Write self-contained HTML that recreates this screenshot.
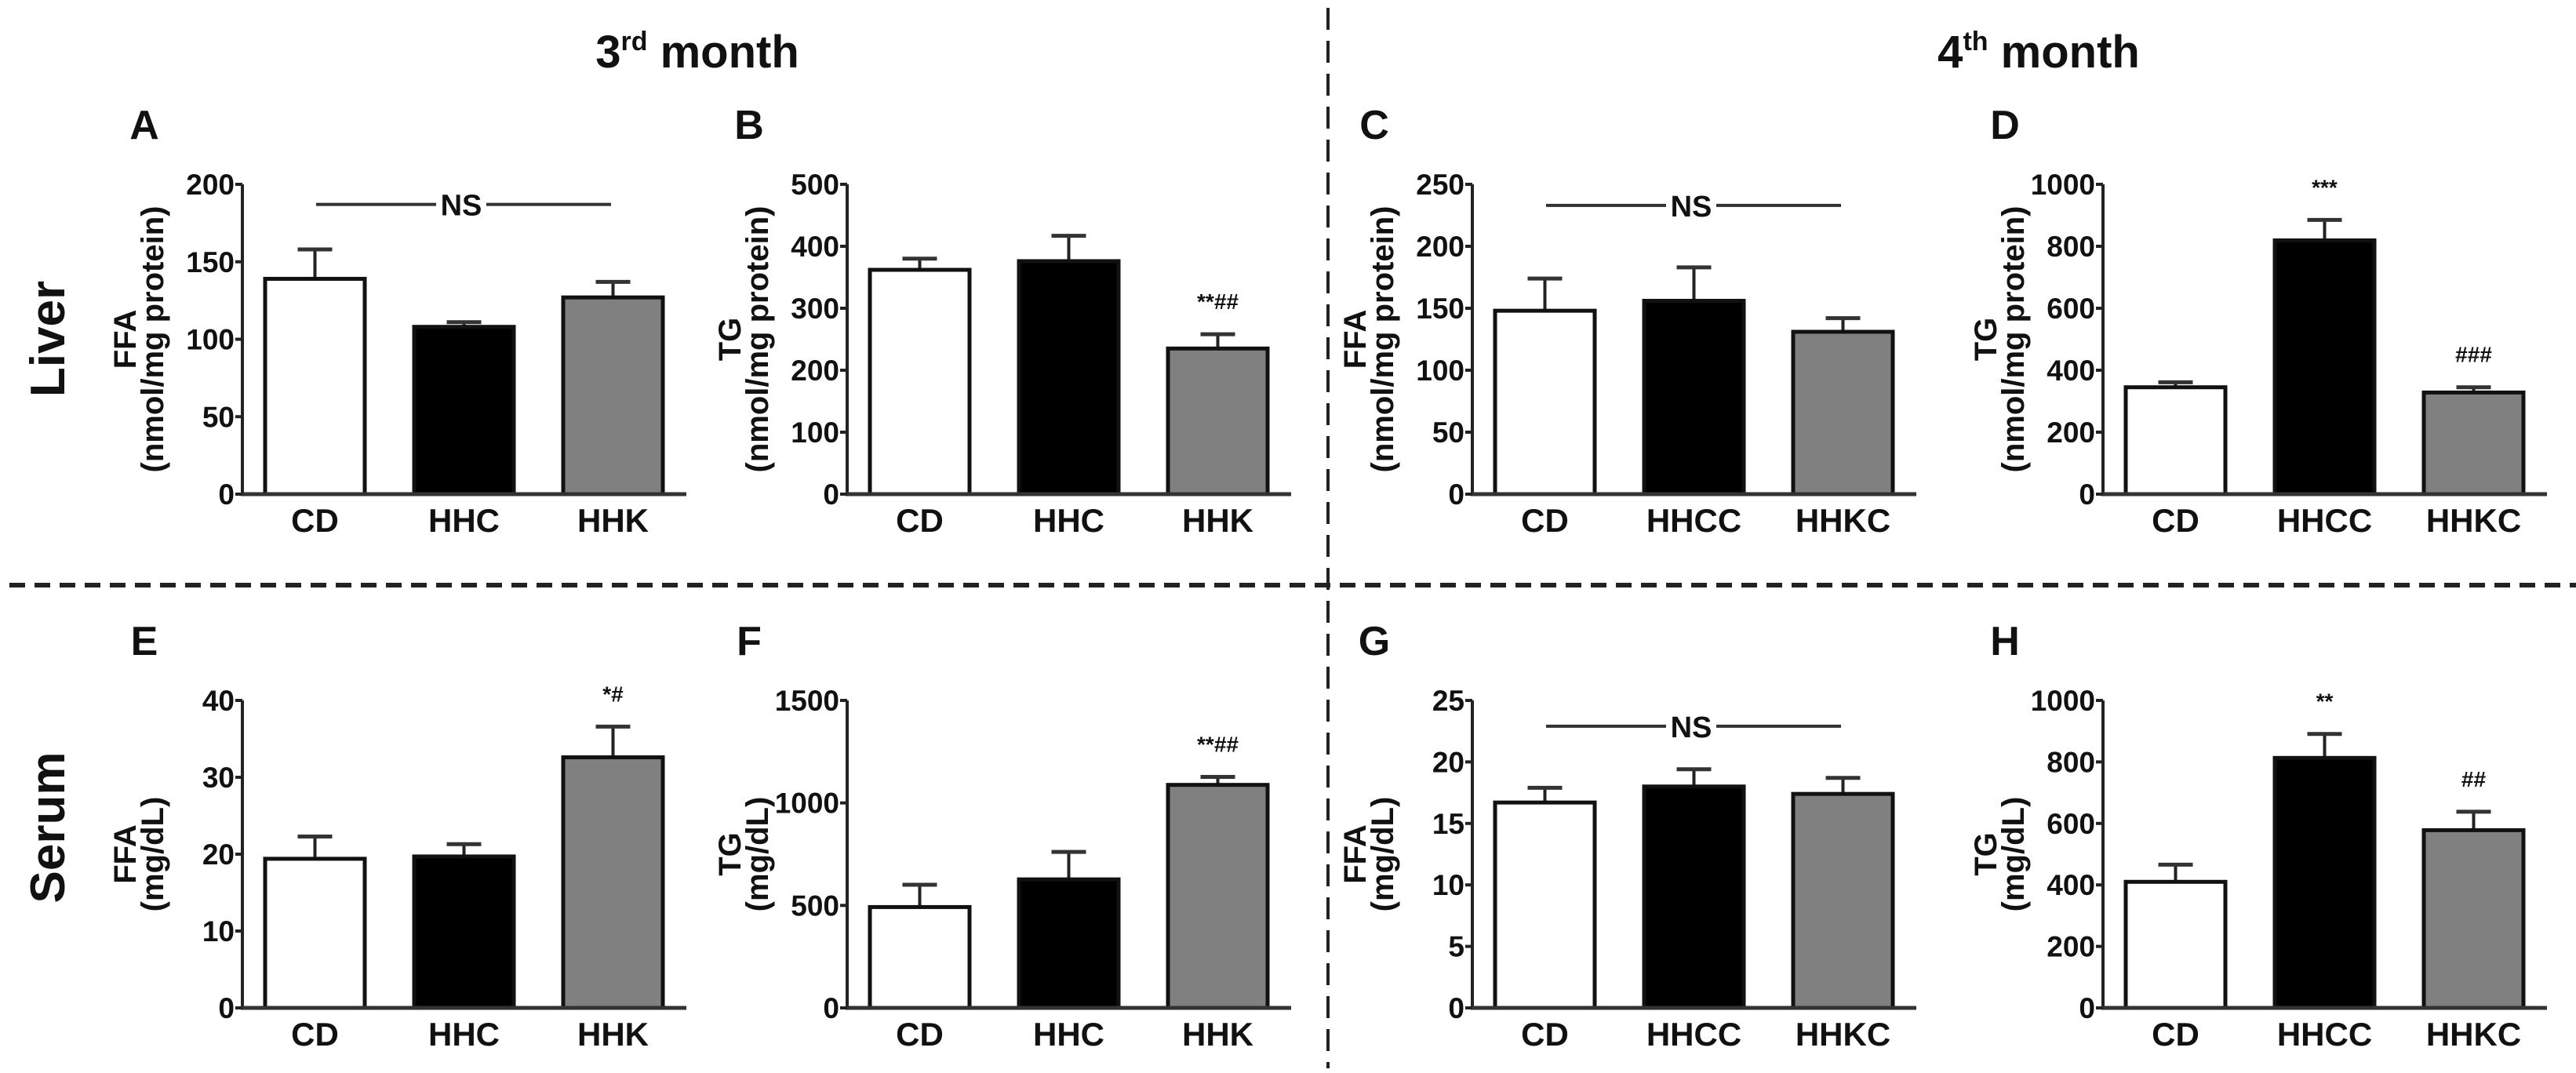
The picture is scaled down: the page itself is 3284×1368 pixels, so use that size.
<!DOCTYPE html>
<html><head><meta charset="utf-8">
<style>
html,body{margin:0;padding:0;background:#fff;}
svg{display:block;}
text{font-family:"Liberation Sans Narrow","Liberation Sans",sans-serif;font-weight:bold;fill:#111;}
.wide{font-family:"Liberation Sans",sans-serif;}
</style></head>
<body>
<svg id="fig" width="3284" height="1368" viewBox="0 0 3284 1368" xmlns="http://www.w3.org/2000/svg"></svg>
<script>
// ---- data ----
const catsA = ["CD","HHC","HHK"];
const catsC = ["CD","HHCC","HHKC"];
const valsA = [139, 108, 127];   const errA = [158, 111, 137];
const valsB = [362, 376, 235];   const errB = [380, 417, 258];
const valsC = [148, 156, 131];   const errC = [174, 183, 142];
const valsD = [345, 819, 328];   const errD = [361, 885, 345];
const valsE = [19.4, 19.7, 32.6]; const errE = [22.3, 21.3, 36.6];
const valsF = [492, 627, 1088];  const errF = [601, 761, 1127];
const valsG = [16.7, 18.0, 17.4]; const errG = [17.9, 19.4, 18.7];
const valsH = [410, 813, 578];   const errH = [466, 891, 638];
const ticksA = [0,50,100,150,200];
const ticksB = [0,100,200,300,400,500];
const ticksC = [0,50,100,150,200,250];
const ticksD = [0,200,400,600,800,1000];
const ticksE = [0,10,20,30,40];
const ticksF = [0,500,1000,1500];
const ticksG = [0,5,10,15,20,25];
const ticksH = [0,200,400,600,800,1000];
const annB = ["", "", "**##"]; const annD = ["", "***", "###"];
const annE = ["", "", "*#"];   const annF = ["", "", "**##"];
const annH = ["", "**", "##"];
const annEmpty = ["", "", ""];

const NS = "http://www.w3.org/2000/svg";
const svg = document.getElementById('fig');
function mk(tag, attrs, parent){
  const e = document.createElementNS(NS, tag);
  for (const k in attrs) e.setAttribute(k, attrs[k]);
  (parent||svg).appendChild(e); return e;
}
function txt(s, attrs, parent){ const t = mk('text', attrs, parent); t.textContent = s; return t; }

const fills = ["#ffffff","#000000","#808080"];

function panel(id, letter, ax, top, base, cats, vals, errs, ticks, ann, ytitle1, ytitle2, ns, nsVal){
  const g = mk('g', {});
  
  
  const ymax = ticks[ticks.length-1];
  const y = v => base - (v / ymax) * (base - top);
  const barX = i => ax + 29 + i * 190;
  const bw = 127;
  const L = txt(letter, {x: ax-125, y: top-58, 'font-size': 52, 'text-anchor':'middle'}, g);
  
  
  vals.forEach((v, i) => {
    const bx = barX(i), by = y(v);
    const eb = mk('g', {}, g);
    
    
    mk('line', {x1: bx+bw/2, x2: bx+bw/2, y1: by, y2: y(errs[i]), stroke:'#222', 'stroke-width':4}, eb);
    mk('line', {x1: bx+bw/2-22, x2: bx+bw/2+22, y1: y(errs[i]), y2: y(errs[i]), stroke:'#333', 'stroke-width':5}, eb);
    const r = mk('rect', {x: bx, y: by, width: bw, height: base - by, fill: fills[i], stroke:'#111', 'stroke-width':5}, g);
    
    
    if (ann[i]) {
      const a = txt(ann[i], {x: bx+bw/2, y: y(errs[i]) - 32, 'font-size': 28, 'text-anchor':'middle'}, g);
      
      
    }
    const xl = txt(cats[i], {x: bx+bw/2, y: base+48, 'font-size': 42, 'text-anchor':'middle'}, g);
    
    
  });
  const ya = mk('line', {x1: ax, x2: ax, y1: top, y2: base+2, stroke:'#222', 'stroke-width':4}, g);
  
  
  const xa = mk('line', {x1: ax-2, x2: ax+566, y1: base, y2: base, stroke:'#333', 'stroke-width':5}, g);
  
  
  ticks.forEach(t => {
    mk('line', {x1: ax-9, x2: ax, y1: y(t), y2: y(t), stroke:'#222', 'stroke-width':4}, g);
    const tl = txt(String(t), {x: ax-10, y: y(t)+13, 'font-size': 37, 'text-anchor':'end'}, g);
    
    
  });
  const mid = (top + base) / 2;
  const yt = mk('g', {transform: `translate(${ax-134},${mid}) rotate(-90)`}, g);
  
  
  txt(ytitle1, {x: 0, y: -2, 'font-size': 40, 'text-anchor':'middle', class:'wide'}, yt);
  txt(ytitle2, {x: 0, y: 33, 'font-size': 40, 'text-anchor':'middle', class:'wide'}, yt);
  if (ns) {
    const yn = y(nsVal);
    const nsg = mk('g', {}, g);
    
    
    const cx = ax + 277;
    mk('line', {x1: ax+94, x2: cx-30, y1: yn, y2: yn, stroke:'#333', 'stroke-width':4}, nsg);
    mk('line', {x1: cx+34, x2: ax+470, y1: yn, y2: yn, stroke:'#333', 'stroke-width':4}, nsg);
    txt('NS', {x: cx+2, y: yn+14, 'font-size': 38, 'text-anchor':'middle'}, nsg);
  }
}

const T1 = 235, B1 = 630, T2 = 893, B2 = 1285;
panel('a','A',309,T1,B1,catsA,valsA,errA,ticksA,annEmpty,'FFA','(nmol/mg protein)',true,187);
panel('b','B',1080,T1,B1,catsA,valsB,errB,ticksB,annB,'TG','(nmol/mg protein)',false,0);
panel('c','C',1877,T1,B1,catsC,valsC,errC,ticksC,annEmpty,'FFA','(nmol/mg protein)',true,233);
panel('d','D',2681,T1,B1,catsC,valsD,errD,ticksD,annD,'TG','(nmol/mg protein)',false,0);
panel('e','E',309,T2,B2,catsA,valsE,errE,ticksE,annE,'FFA','(mg/dL)',false,0);
panel('f','F',1080,T2,B2,catsA,valsF,errF,ticksF,annF,'TG','(mg/dL)',false,0);
panel('g','G',1877,T2,B2,catsC,valsG,errG,ticksG,annEmpty,'FFA','(mg/dL)',true,22.9);
panel('h','H',2681,T2,B2,catsC,valsH,errH,ticksH,annH,'TG','(mg/dL)',false,0);

const h1 = txt('', {x: 889, y: 86, 'font-size': 58, 'text-anchor':'middle'});


h1.innerHTML = '3<tspan font-size="34" dy="-22">rd</tspan><tspan dy="22"> month</tspan>';
const h2 = txt('', {x: 2599, y: 86, 'font-size': 58, 'text-anchor':'middle'});


h2.innerHTML = '4<tspan font-size="34" dy="-22">th</tspan><tspan dy="22"> month</tspan>';

const rl = mk('g', {transform: 'translate(82,432) rotate(-90)'});


txt('Liver', {x:0, y:0, 'font-size': 62, 'text-anchor':'middle', class:'wide'}, rl);
const rs = mk('g', {transform: 'translate(82,1055) rotate(-90)'});


txt('Serum', {x:0, y:0, 'font-size': 62, 'text-anchor':'middle', class:'wide'}, rs);

const vd = mk('line', {x1: 1693, x2: 1693, y1: 10, y2: 1362, stroke:'#222', 'stroke-width':4, 'stroke-dasharray':'28 14'});


const hd = mk('line', {x1: 12, x2: 3284, y1: 746, y2: 746, stroke:'#222', 'stroke-width':6, 'stroke-dasharray':'20 12'});


</script>
</body></html>
